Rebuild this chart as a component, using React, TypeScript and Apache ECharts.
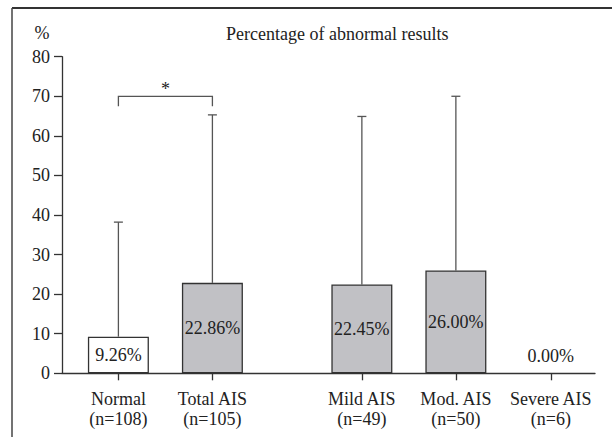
import React, { useEffect, useRef } from "react";
import * as echarts from "echarts";

// ---- data ----
const groupNames = ["Normal", "Total AIS", "Mild AIS", "Mod. AIS", "Severe AIS"];
const groupN = ["n=108", "n=105", "n=49", "n=50", "n=6"];
const percentValues = [9.26, 22.86, 22.45, 26.0, 0.0];
const errorUpper = [38.2, 65.3, 64.9, 70.0, null];
const yTicks = [0, 10, 20, 30, 40, 50, 60, 70, 80];
const significancePair = [0, 1]; // Normal vs Total AIS
const significanceLevel = 70;
const significanceLabel = "*";

// ---- layout (slot positions along the x axis, gap after Total AIS) ----
const slotPos = [1, 2, 3.59, 4.59, 5.6];

const FONT = "Liberation Serif";
const FS = 18;
const TEXT = "#222";

export default function App() {
  const ref = useRef<HTMLDivElement>(null);

  useEffect(() => {
    if (!ref.current) return;
    const chart = echarts.init(ref.current, undefined, { renderer: "svg" });

    const labelFor = (v: number) => {
      const i = slotPos.findIndex((p) => Math.abs(p - v) < 1e-6);
      return i >= 0 ? `${groupNames[i]}\n(${groupN[i]})` : "";
    };

    const barData = percentValues.map((v, i) => ({
      value: [slotPos[i], v],
      itemStyle: {
        color: i === 0 ? "#ffffff" : "#c1c1c5",
        borderColor: "#333",
        borderWidth: v === 0 ? 0 : 1.3,
      },
      label:
        v === 0
          ? { position: "top", distance: 8 }
          : { position: "inside" },
    }));

    const errData = percentValues
      .map((v, i) => [slotPos[i], v, errorUpper[i]])
      .filter((d) => d[2] != null);

    const option: any = {
      animation: false,
      backgroundColor: "#ffffff",
      textStyle: { fontFamily: FONT },
      title: {
        text: "Percentage of abnormal results",
        left: 226,
        top: 25,
        padding: 0,
        textStyle: { fontFamily: FONT, fontSize: FS, fontWeight: "normal", color: TEXT },
      },
      grid: { left: 62, right: 17, top: 56.7, bottom: 63.7, containLabel: false },
      xAxis: {
        type: "value",
        min: 0.4,
        max: 6.07,
        splitLine: { show: false },
        axisLine: { show: true, onZero: false, lineStyle: { color: "#333", width: 1.3 } },
        axisTick: {
          show: true,
          customValues: slotPos,
          length: 7,
          lineStyle: { color: "#333", width: 1.3 },
        },
        axisLabel: {
          customValues: slotPos,
          formatter: (v: number) => labelFor(v),
          fontFamily: FONT,
          fontSize: FS,
          lineHeight: 20,
          color: TEXT,
          margin: 16,
        },
      },
      yAxis: {
        type: "value",
        min: yTicks[0],
        max: yTicks[yTicks.length - 1],
        interval: yTicks[1] - yTicks[0],
        splitLine: { show: false },
        axisLine: { show: true, lineStyle: { color: "#333", width: 1.3 } },
        axisTick: { show: true, length: 8, lineStyle: { color: "#333", width: 1.3 } },
        axisLabel: { fontFamily: FONT, fontSize: FS, color: TEXT, margin: 12 },
      },
      graphic: [
        {
          type: "line",
          shape: { x1: 12, y1: 8, x2: 612, y2: 8 },
          style: { stroke: "#333", lineWidth: 2 },
        },
        {
          type: "line",
          shape: { x1: 12, y1: 8, x2: 12, y2: 437 },
          style: { stroke: "#444", lineWidth: 1.5 },
        },
        {
          type: "text",
          x: 42,
          y: 33,
          style: {
            text: "%",
            fontFamily: FONT,
            fontSize: FS,
            fill: TEXT,
            align: "center",
            verticalAlign: "middle",
          },
        },
      ],
      series: [
        {
          type: "bar",
          data: barData,
          barWidth: 61,
          label: {
            show: true,
            formatter: (p: any) => `${p.value[1].toFixed(2)}%`,
            fontFamily: FONT,
            fontSize: FS,
            color: TEXT,
          },
          z: 3,
        },
        {
          type: "custom",
          data: errData,
          encode: { x: 0, y: [1, 2] },
          z: 2,
          renderItem: (params: any, api: any) => {
            const x = api.value(0);
            const lo = api.coord([x, api.value(1)]);
            const hi = api.coord([x, api.value(2)]);
            const cap = 4.5;
            const style = { stroke: "#555", lineWidth: 1.3 };
            return {
              type: "group",
              children: [
                { type: "line", shape: { x1: lo[0], y1: lo[1], x2: hi[0], y2: hi[1] }, style },
                { type: "line", shape: { x1: hi[0] - cap, y1: hi[1], x2: hi[0] + cap, y2: hi[1] }, style },
              ],
            };
          },
        },
        {
          type: "custom",
          data: [[slotPos[significancePair[0]], slotPos[significancePair[1]], significanceLevel]],
          encode: { x: [0, 1], y: 2 },
          z: 2,
          renderItem: (params: any, api: any) => {
            const a = api.coord([api.value(0), api.value(2)]);
            const b = api.coord([api.value(1), api.value(2)]);
            const leg = 10;
            const style = { stroke: "#555", lineWidth: 1.3 };
            return {
              type: "group",
              children: [
                {
                  type: "polyline",
                  shape: { points: [[a[0], a[1] + leg], [a[0], a[1]], [b[0], b[1]], [b[0], b[1] + leg]] },
                  style: { ...style, fill: null },
                },
                {
                  type: "text",
                  x: (a[0] + b[0]) / 2,
                  y: a[1] - 7,
                  style: {
                    text: significanceLabel,
                    fontFamily: FONT,
                    fontSize: FS,
                    fill: TEXT,
                    align: "center",
                    verticalAlign: "middle",
                  },
                },
              ],
            };
          },
        },
      ],
    };

    chart.setOption(option);
    return () => chart.dispose();
  }, []);

  return (
    <div
      ref={ref}
      style={{ position: "fixed", left: 0, top: 0, width: 612, height: 437, background: "#fff" }}
    />
  );
}
